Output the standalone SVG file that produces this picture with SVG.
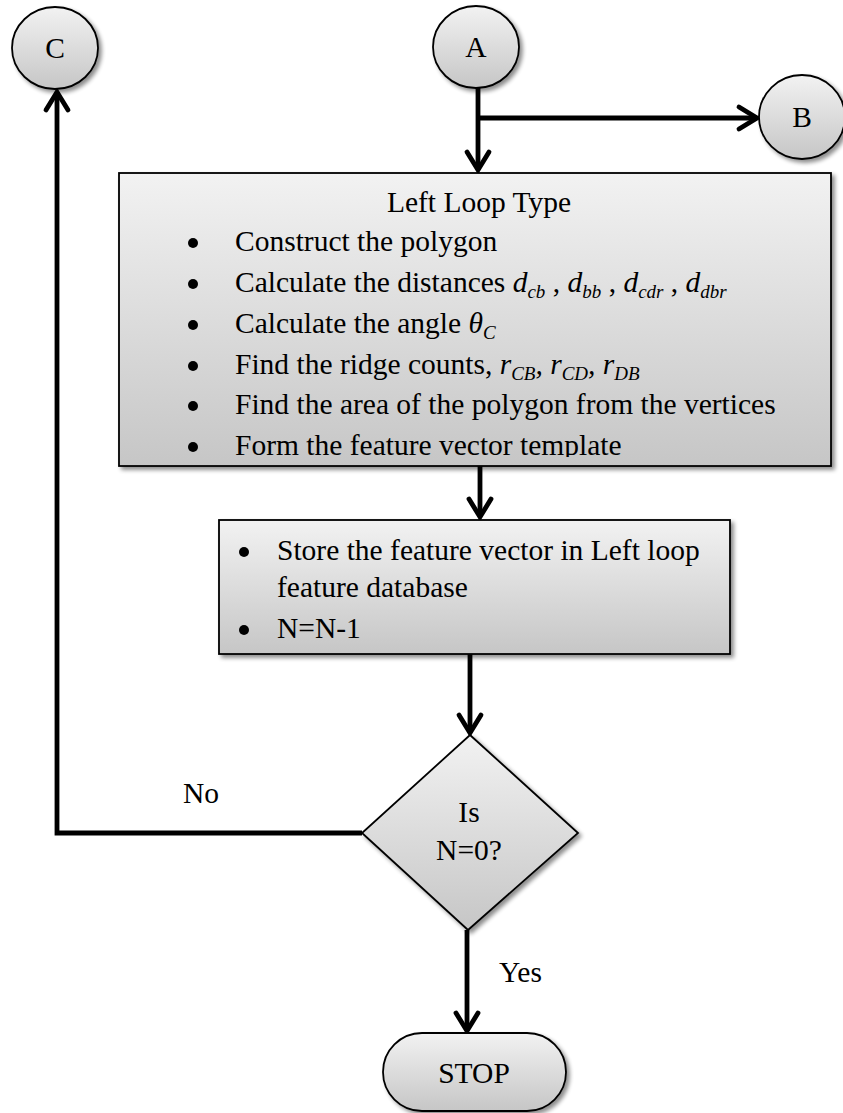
<svg xmlns="http://www.w3.org/2000/svg" width="843" height="1113" viewBox="0 0 843 1113">
  <defs>
    <linearGradient id="gFill" x1="0" y1="0" x2="0" y2="1">
      <stop offset="0" stop-color="#f2f2f2"/>
      <stop offset="1" stop-color="#c6c6c6"/>
    </linearGradient>
    <filter id="shadow" x="-10%" y="-10%" width="130%" height="130%">
      <feGaussianBlur in="SourceAlpha" stdDeviation="2"/>
      <feOffset dx="3" dy="3" result="b"/>
      <feComponentTransfer><feFuncA type="linear" slope="0.45"/></feComponentTransfer>
      <feMerge><feMergeNode/><feMergeNode in="SourceGraphic"/></feMerge>
    </filter>
    <clipPath id="clipBox1">
      <rect x="119" y="173" width="712" height="284"/>
    </clipPath>
  </defs>
  <style>
    .shape { fill: url(#gFill); stroke: #000; stroke-width: 1.8; }
    .t { font-family: "Liberation Serif", "Times New Roman", serif; font-size: 29.5px; fill: #000; }
    .m { font-style: italic; }
    .sub { font-size: 19px; }
    .dot { fill: #000; }
    .wire { fill: none; stroke: #000; stroke-width: 4.8; stroke-linejoin: miter; }
    .head { fill: none; stroke: #000; stroke-width: 4.8; stroke-linecap: round; stroke-linejoin: miter; }
  </style>

  <rect width="843" height="1113" fill="#fff"/>

  <!-- connectors -->
  <g id="connectors">
    <!-- A down to Left Loop Type -->
    <path class="wire" d="M478 88 V170"/>
    <path class="head" d="M467 152 L478 170 L489 152"/>
    <!-- branch to B -->
    <path class="wire" d="M478 118 H757"/>
    <path class="head" d="M739 107 L757 118 L739 129"/>
    <!-- Left Loop Type to store box -->
    <path class="wire" d="M480 466 V517"/>
    <path class="head" d="M469 499 L480 517 L491 499"/>
    <!-- store box to decision -->
    <path class="wire" d="M470 654 V733"/>
    <path class="head" d="M459 715 L470 733 L481 715"/>
    <!-- No: decision back to C -->
    <path class="wire" d="M362 833 H57 V92"/>
    <path class="head" d="M46 110 L57 92 L68 110"/>
    <!-- Yes: decision to STOP -->
    <path class="wire" d="M467 930 V1031"/>
    <path class="head" d="M456 1013 L467 1031 L478 1013"/>
    <text class="t" x="183" y="803">No</text>
    <text class="t" x="499" y="982">Yes</text>
  </g>

  <!-- connector C -->
  <g id="nodeC">
    <ellipse class="shape" cx="55" cy="48" rx="43" ry="41" filter="url(#shadow)"/>
    <text class="t" x="55" y="58" text-anchor="middle">C</text>
  </g>

  <!-- connector A -->
  <g id="nodeA">
    <ellipse class="shape" cx="476" cy="47" rx="43" ry="41" filter="url(#shadow)"/>
    <text class="t" x="476" y="57" text-anchor="middle">A</text>
  </g>

  <!-- connector B -->
  <g id="nodeB">
    <ellipse class="shape" cx="802" cy="117" rx="43" ry="42" filter="url(#shadow)"/>
    <text class="t" x="802" y="127" text-anchor="middle">B</text>
  </g>

  <!-- Left loop process box -->
  <g id="leftLoop">
    <rect class="shape" x="119" y="173" width="712" height="293" filter="url(#shadow)"/>
    <g clip-path="url(#clipBox1)">
      <text class="t" x="479" y="212" text-anchor="middle">Left Loop Type</text>
      <g class="dot">
        <circle cx="193" cy="243" r="5"/>
        <circle cx="193" cy="284" r="5"/>
        <circle cx="193" cy="325" r="5"/>
        <circle cx="193" cy="366" r="5"/>
        <circle cx="193" cy="406" r="5"/>
        <circle cx="193" cy="447" r="5"/>
      </g>
      <text class="t" x="235" y="251">Construct the polygon</text>
      <text class="t" x="235" y="292">Calculate the distances <tspan class="m">d</tspan><tspan class="m sub" dy="6">cb</tspan><tspan dy="-6">  , </tspan><tspan class="m">d</tspan><tspan class="m sub" dy="6">bb</tspan><tspan dy="-6"> , </tspan><tspan class="m">d</tspan><tspan class="m sub" dy="6">cdr</tspan><tspan dy="-6"> , </tspan><tspan class="m">d</tspan><tspan class="m sub" dy="6">dbr</tspan></text>
      <text class="t" x="235" y="333">Calculate the angle <tspan class="m">θ</tspan><tspan class="m sub" dy="6">C</tspan></text>
      <text class="t" x="235" y="374">Find the ridge counts, <tspan class="m">r</tspan><tspan class="m sub" dy="6">CB</tspan><tspan class="m" dy="-6">, r</tspan><tspan class="m sub" dy="6">CD</tspan><tspan class="m" dy="-6">, r</tspan><tspan class="m sub" dy="6">DB</tspan></text>
      <text class="t" x="235" y="414">Find the area of the polygon from the vertices</text>
      <text class="t" x="235" y="455">Form the feature vector template</text>
    </g>
  </g>

  <!-- store feature vector box -->
  <g id="storeBox">
    <rect class="shape" x="219" y="520" width="511" height="134" filter="url(#shadow)"/>
    <circle class="dot" cx="244" cy="552" r="5"/>
    <text class="t" x="277" y="560">Store the feature vector in Left loop</text>
    <text class="t" x="277" y="597">feature database</text>
    <circle class="dot" cx="244" cy="630" r="5"/>
    <text class="t" x="277" y="638">N=N-1</text>
  </g>

  <!-- decision -->
  <g id="decision">
    <polygon class="shape" points="470,735 578,833 468,930 362,833" filter="url(#shadow)"/>
    <text class="t" x="469" y="822" text-anchor="middle">Is</text>
    <text class="t" x="469" y="860" text-anchor="middle">N=0?</text>
  </g>

  <!-- terminator -->
  <g id="stop">
    <rect class="shape" x="383" y="1033" width="183" height="78" rx="39" ry="39" filter="url(#shadow)"/>
    <text class="t" x="474" y="1083" text-anchor="middle">STOP</text>
  </g>
</svg>
